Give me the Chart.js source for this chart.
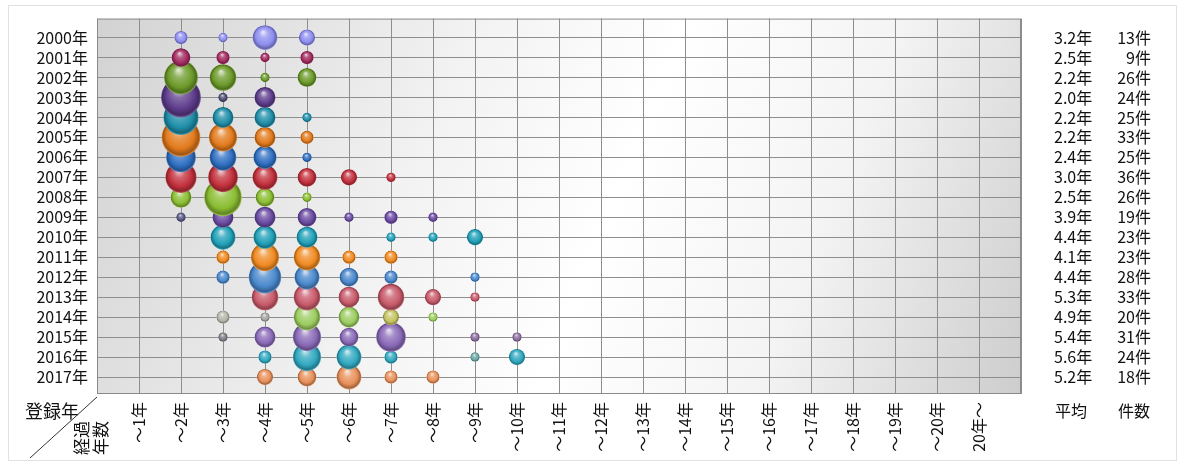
<!DOCTYPE html>
<html>
<head>
<meta charset="utf-8">
<script src="https://cdn.jsdelivr.net/npm/chart.js@4"></script>
<style>
  html, body { margin: 0; padding: 0; background: #fff; }
  #wrap { width: 1183px; height: 466px; }
</style>
</head>
<body>
<div id="wrap"><canvas id="myChart" width="1183" height="466"></canvas></div>
<script>
// 登録年（行）
const years = ['2000','2001','2002','2003','2004','2005','2006','2007','2008',
  '2009','2010','2011','2012','2013','2014','2015','2016','2017'];
// 経過年数（列）
const xLabels = ['～1年','～2年','～3年','～4年','～5年','～6年','～7年','～8年','～9年','～10年',
  '～11年','～12年','～13年','～14年','～15年','～16年','～17年','～18年','～19年','～20年','20年～'];
// 件数 : 行=登録年, 列=～1年..～10年 (11年以降は0件)
const counts = [
  [0,2,1,7,3,0,0,0,0,0],
  [0,4,2,1,2,0,0,0,0,0],
  [0,13,8,1,4,0,0,0,0,0],
  [0,18,1,5,0,0,0,0,0,0],
  [0,14,5,5,1,0,0,0,0,0],
  [0,17,9,5,2,0,0,0,0,0],
  [0,10,8,6,1,0,0,0,0,0],
  [0,11,10,7,4,3,1,0,0,0],
  [0,5,16,4,1,0,0,0,0,0],
  [0,1,5,5,4,1,2,1,0,0],
  [0,0,7,6,5,0,1,1,3,0],
  [0,0,2,9,8,2,2,0,0,0],
  [0,0,2,12,7,4,2,0,1,0],
  [0,0,0,8,8,5,8,3,1,0],
  [0,0,2,1,8,5,3,1,0,0],
  [0,0,1,5,9,4,10,0,1,1],
  [0,0,0,2,9,7,2,0,1,3],
  [0,0,0,3,4,7,2,2,0,0]
];
const avgYears = ['3.2','2.5','2.2','2.0','2.2','2.2','2.4','3.0','2.5',
  '3.9','4.4','4.1','4.4','5.3','4.9','5.4','5.6','5.2'];
const totals = [13,9,26,24,25,33,25,36,26,19,23,23,28,33,20,31,24,18];

const rowColors = ['#8e8ef0','#a22a60','#6c9a2a','#5e3c8c','#1f8ea8','#e27a1c',
  '#2f6fc2','#c2303c','#8abd32','#6a4aa2','#20a0b8','#f08a22','#4a88cc','#c85a6a',
  '#9ccc60','#8a6ab8','#30a8c0','#e8905a'];
// 一部の小さい玉は色味が違う（行-列）
const pointColors = { '3-2': '#4c4c70', '9-1': '#555582', '14-2': '#b4b4aa', '14-3': '#a4a4a0',
  '14-6': '#c4c462', '15-2': '#7c7c86', '15-8': '#8c6c9c', '15-9': '#8c6c9c', '16-8': '#6aa6a6' };
const R_UNIT = 4.7;
const FONT = '"Noto Sans CJK JP", sans-serif';

function mix(hex, target, t) {
  const n = parseInt(hex.slice(1), 16);
  const r = (n >> 16) & 255, g = (n >> 8) & 255, b = n & 255;
  const m = v => Math.round(v + (target - v) * t);
  return 'rgb(' + m(r) + ',' + m(g) + ',' + m(b) + ')';
}

function sphere(ctx) {
  let col = rowColors[ctx.datasetIndex];
  const chart = ctx.chart;
  if (!ctx.raw || !chart.chartArea) return col;
  col = pointColors[ctx.datasetIndex + '-' + (ctx.raw.x - 1)] || col;
  const px = chart.scales.x.getPixelForValue(ctx.raw.x);
  const py = chart.scales.y.getPixelForValue(ctx.raw.y);
  const r = ctx.raw.r;
  const g = chart.ctx.createRadialGradient(px - r * 0.15, py - r * 0.45, r * 0.05, px, py, r);
  g.addColorStop(0, mix(col, 255, 0.75));
  g.addColorStop(0.3, mix(col, 255, 0.25));
  g.addColorStop(0.7, col);
  g.addColorStop(0.92, mix(col, 0, 0.3));
  g.addColorStop(1, mix(col, 255, 0.2));
  return g;
}

const datasets = years.map((y, i) => {
  const pts = [];
  counts[i].forEach((n, j) => {
    if (n > 0) pts.push({ x: j + 1, y: i, r: R_UNIT * Math.sqrt(n) });
  });
  return { label: y + '年', data: pts, backgroundColor: sphere, borderWidth: 0 };
});

const bgPlugin = {
  id: 'plotBg',
  beforeDraw(chart) {
    const { ctx, chartArea: a } = chart;
    ctx.save();
    // 外枠
    ctx.strokeStyle = '#e2e2e2';
    ctx.lineWidth = 1;
    ctx.strokeRect(8.5, 5.5, 1168, 455);
    const g = ctx.createLinearGradient(a.left, a.top, a.right, a.bottom);
    g.addColorStop(0, '#d2d2d2');
    g.addColorStop(0.35, '#f2f2f2');
    g.addColorStop(0.55, '#ffffff');
    g.addColorStop(0.75, '#f4f4f4');
    g.addColorStop(1, '#cdcdcd');
    ctx.fillStyle = g;
    ctx.fillRect(a.left, a.top, a.right - a.left, a.bottom - a.top);
    ctx.restore();
  },
  afterDatasetsDraw(chart) {
    const { ctx, chartArea: a } = chart;
    ctx.save();
    ctx.strokeStyle = '#8a8a8a';
    ctx.lineWidth = 1;
    ctx.strokeRect(a.left + 0.5, a.top + 0.5, a.right - a.left - 1, a.bottom - a.top - 1);
    ctx.restore();
  },
  afterDraw(chart) {
    const { ctx, scales } = chart;
    ctx.save();
    ctx.fillStyle = '#111';
    ctx.font = '16px ' + FONT;
    ctx.textBaseline = 'middle';
    years.forEach((y, i) => {
      const py = scales.y.getPixelForValue(i);
      ctx.textAlign = 'left';
      ctx.fillText(avgYears[i] + '年', 1054, py);
      ctx.textAlign = 'right';
      ctx.fillText(totals[i] + '件', 1151, py);
    });
    ctx.textAlign = 'left';
    ctx.fillText('平均', 1055, 411);
    ctx.fillText('件数', 1118, 411);
    // 左下の見出し
    ctx.font = '18px ' + FONT;
    ctx.fillText('登録年', 25, 411);
    ctx.strokeStyle = '#333';
    ctx.beginPath();
    ctx.moveTo(30, 458);
    ctx.lineTo(97, 397);
    ctx.stroke();
    ctx.font = '17px ' + FONT;
    ctx.textAlign = 'right';
    [['経過', 82], ['年数', 101]].forEach(([t, x]) => {
      ctx.save();
      ctx.translate(x, 421);
      ctx.rotate(-Math.PI / 2);
      ctx.fillText(t, 0, 0);
      ctx.restore();
    });
    ctx.restore();
  }
};

new Chart(document.getElementById('myChart'), {
  type: 'bubble',
  data: { datasets: datasets },
  options: {
    responsive: false,
    animation: false,
    layout: { autoPadding: false, padding: { left: 0, top: 14, right: 162, bottom: 0 } },
    plugins: { legend: { display: false }, tooltip: { enabled: false } },
    scales: {
      x: {
        type: 'linear', min: 0, max: 22,
        afterBuildTicks: s => { s.ticks = Array.from({ length: 23 }, (_, i) => ({ value: i })); },
        afterFit: s => { s.height = 72; },
        grid: { color: '#8e8e8e', drawTicks: false },
        border: { display: false },
        ticks: {
          autoSkip: false, minRotation: 90, maxRotation: 90, padding: 8,
          color: '#111', font: { family: FONT, size: 16 },
          callback: v => xLabels[v - 1] || ''
        }
      },
      y: {
        type: 'linear', reverse: true, min: -0.95, max: 17.85,
        afterBuildTicks: s => { s.ticks = years.map((_, i) => ({ value: i })); },
        afterFit: s => { s.width = 97; },
        grid: { color: '#8e8e8e', drawTicks: false },
        border: { display: false },
        ticks: {
          autoSkip: false, padding: 9,
          color: '#111', font: { family: FONT, size: 16 },
          callback: v => (years[v] ? years[v] + '年' : '')
        }
      }
    }
  },
  plugins: [bgPlugin]
});
</script>
</body>
</html>
